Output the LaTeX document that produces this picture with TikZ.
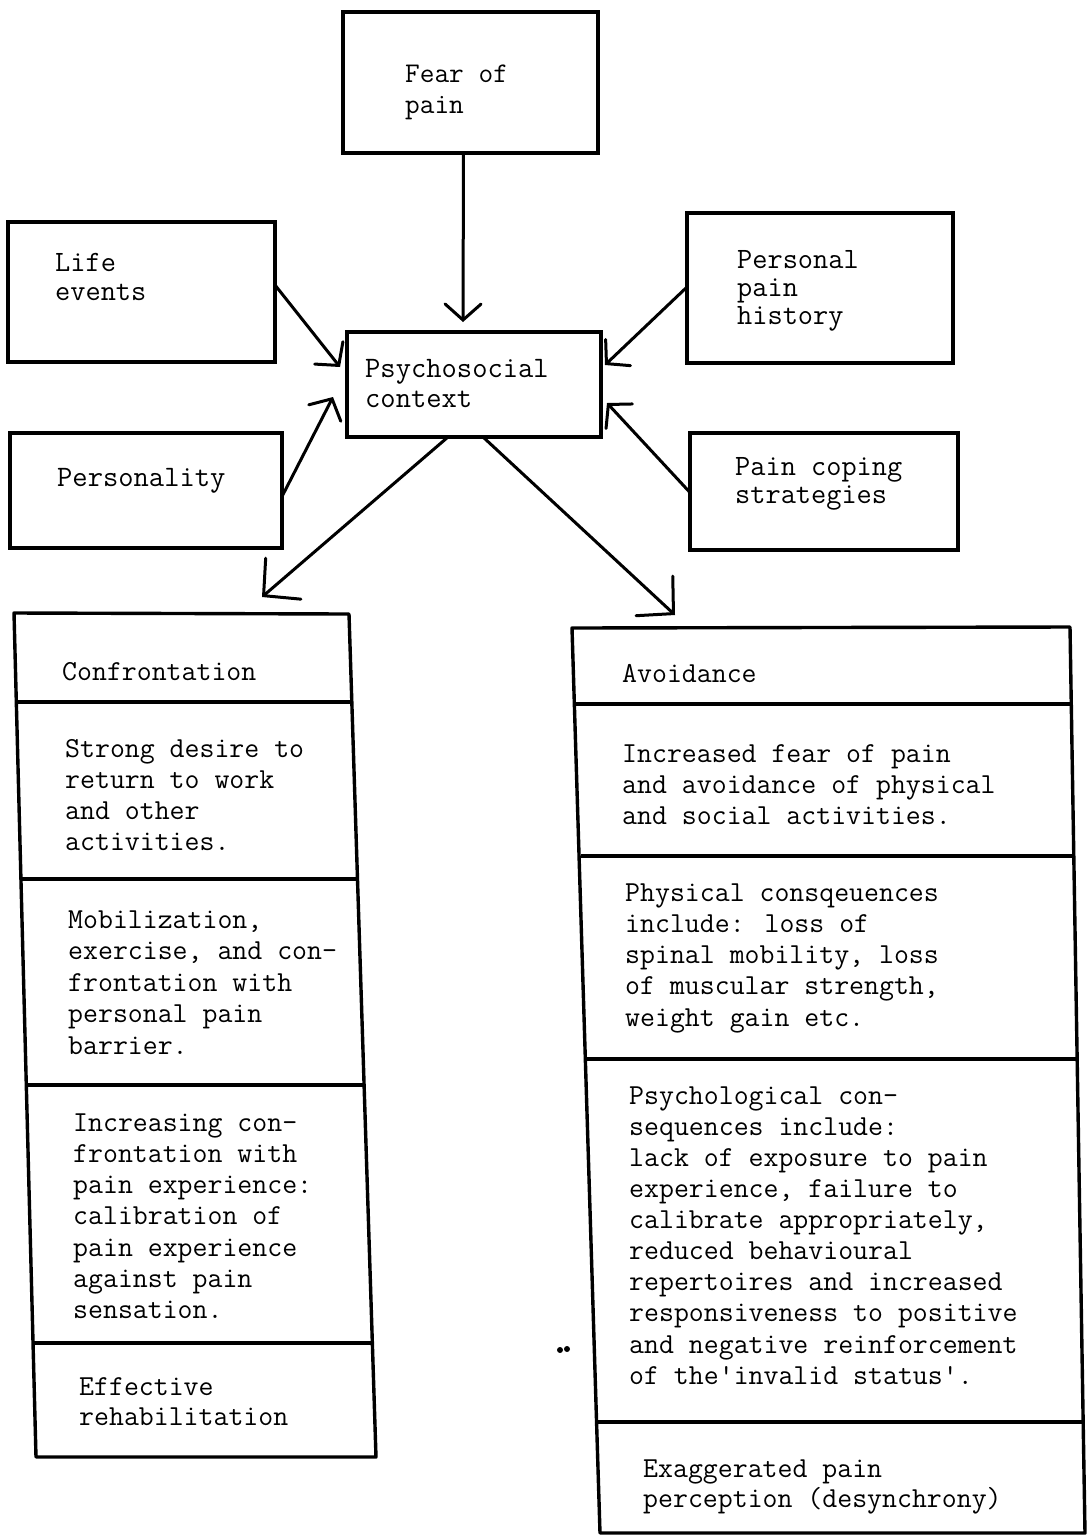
\documentclass[tikz,border=0pt]{standalone}
\usepackage{fontspec}
\usetikzlibrary{arrows.meta,calc}
\newcommand\twfnt{\ttfamily\addfontfeature{FakeBold=1.3}}
\begin{document}
\begin{tikzpicture}[x=1pt,y=-1pt,
  box/.style={draw, line width=3.4pt, inner sep=0pt, outer sep=0pt},
  lbl/.style={anchor=north west, inner sep=0pt, align=left, font=\twfnt\fontsize{29.5}{29}\selectfont},
  clbl/.style={anchor=north west, inner sep=0pt, align=left, font=\twfnt\fontsize{29}{31}\selectfont},
  colline/.style={line width=3.4pt, line join=round},
  arr/.style={line width=3pt, line cap=round, -{Straight Barb[length=16pt,width=36pt,line cap=round]}},
  bigarr/.style={line width=3pt, line cap=round, -{Straight Barb[length=26pt,width=54pt,line cap=round]}},
]
\useasboundingbox[fill=white] (0,0) rectangle (1090,1535);

% ---------- top boxes ----------
\node[box, minimum width=255pt, minimum height=141pt] (fear) at (470.5,82.5) {};
\node[box, minimum width=267pt, minimum height=140pt] (life) at (141.5,292) {};
\node[box, minimum width=266pt, minimum height=150pt] (hist) at (820,288) {};
\node[box, minimum width=254pt, minimum height=105pt] (psy) at (474,384.5) {};
\node[box, minimum width=272pt, minimum height=115pt] (pers) at (146,490.5) {};
\node[box, minimum width=268pt, minimum height=117pt] (cope) at (824,491.5) {};

\node[lbl, font=\twfnt\fontsize{28.5}{31}\selectfont] (tfear) at (405,64) {\rule{0pt}{18pt}Fear of\\pain};
\node[lbl] (tlife) at (55,253) {\rule{0pt}{18pt}Life\\events};
\node[lbl, font=\twfnt\fontsize{29.5}{28}\selectfont] (thist) at (737,250) {\rule{0pt}{18pt}Personal\\pain\\history};
\node[lbl, font=\twfnt\fontsize{29.7}{30}\selectfont] (tpsy) at (365,359) {\rule{0pt}{18pt}Psychosocial\\context};
\node[lbl, font=\twfnt\fontsize{29.7}{30}\selectfont] (tpers) at (57,468) {\rule{0pt}{18pt}Personality};
\node[lbl, font=\twfnt\fontsize{29.5}{28}\selectfont] (tcope) at (735,457) {\rule{0pt}{18pt}Pain coping\\strategies};

% ---------- arrow end points ----------
\coordinate (tipfear) at (463,322);
\coordinate (tiplife) at (340,367);
\coordinate (tippers) at (333,397);
\coordinate (tiphist) at (605,365);
\coordinate (tipcope) at (607,403);
\coordinate (tipconf) at (262,597);
\coordinate (tipavoid) at (675,615);

\draw[arr] ($(fear.south)+(-7,0)$) -- (tipfear);
\draw[arr] ($(life.east)+(0,-7)$) -- (tiplife);
\draw[arr] ($(pers.east)+(0,6)$) -- (tippers);
\draw[arr] ($(hist.west)+(0,-1)$) -- (tiphist);
\draw[arr] ($(cope.west)+(0,1)$) -- (tipcope);
\draw[bigarr] ($(psy.south)+(-26,0)$) -- (tipconf);
\draw[bigarr] ($(psy.south)+(9,0)$) -- (tipavoid);

% ---------- Confrontation column ----------
\coordinate (ctl) at (14,613);
\coordinate (ctr) at (349,614);
\coordinate (cbr) at (376,1457);
\coordinate (cbl) at (36,1457);
\draw[colline] (ctl) -- (ctr) -- (cbr) -- (cbl) -- cycle;
\draw[colline] (16,702) -- (350,702);
\draw[colline] (22,879) -- (356,879);
\draw[colline] (27,1085) -- (363,1085);
\draw[colline] (34,1343) -- (371,1343);

\node[clbl] (tconf) at (62,662) {\rule{0pt}{18pt}Confrontation};
\node[clbl] (tc1) at (65,739) {\rule{0pt}{18pt}Strong desire to\\return to work\\and other\\activities.};
\node[clbl, font=\twfnt\fontsize{29}{31.5}\selectfont] (tc2) at (68,910) {\rule{0pt}{18pt}Mobilization,\\exercise, and con-\\frontation with\\personal pain\\barrier.};
\node[clbl, font=\twfnt\fontsize{29}{31.2}\selectfont] (tc3) at (73,1113) {\rule{0pt}{18pt}Increasing con-\\frontation with\\pain experience:\\calibration of\\pain experience\\against pain\\sensation.};
\node[clbl, font=\twfnt\fontsize{29}{30}\selectfont] (tc4) at (79,1377) {\rule{0pt}{18pt}Effective\\rehabilitation};

% ---------- Avoidance column ----------
\coordinate (atl) at (572,628);
\coordinate (atr) at (1070,627);
\coordinate (abr) at (1085,1533);
\coordinate (abl) at (600,1533);
\draw[colline] (atl) -- (atr) -- (abr) -- (abl) -- cycle;
\draw[colline] (576,704) -- (1071,704);
\draw[colline] (581,856) -- (1074,856);
\draw[colline] (586,1059) -- (1077,1059);
\draw[colline] (597,1422) -- (1085,1422);

\node[clbl] (tavoid) at (622,664) {\rule{0pt}{18pt}Avoidance};
\node[clbl] (ta1) at (622,744) {\rule{0pt}{18pt}Increased fear of pain\\and avoidance of physical\\and social activities.};
\node[clbl, font=\twfnt\fontsize{29}{31.2}\selectfont] (ta2) at (625,883) {\rule{0pt}{18pt}Physical consqeuences\\include:  loss of\\spinal mobility, loss\\of muscular strength,\\weight gain etc.};
\node[clbl, font=\twfnt\fontsize{29}{31.1}\selectfont] (ta3) at (629,1086) {\rule{0pt}{18pt}Psychological con-\\sequences include:\\lack of exposure to pain\\experience, failure to\\calibrate appropriately,\\reduced behavioural\\repertoires and increased\\responsiveness to positive\\and negative reinforcement\\of the'invalid status'.};
\node[clbl, font=\twfnt\fontsize{29}{30}\selectfont] (ta4) at (643,1459) {\rule{0pt}{18pt}Exaggerated pain\\perception (desynchrony)};

% stray marks
\fill (560,1350) circle (3pt);
\fill (567,1349) circle (3pt);
\end{tikzpicture}
\end{document}
